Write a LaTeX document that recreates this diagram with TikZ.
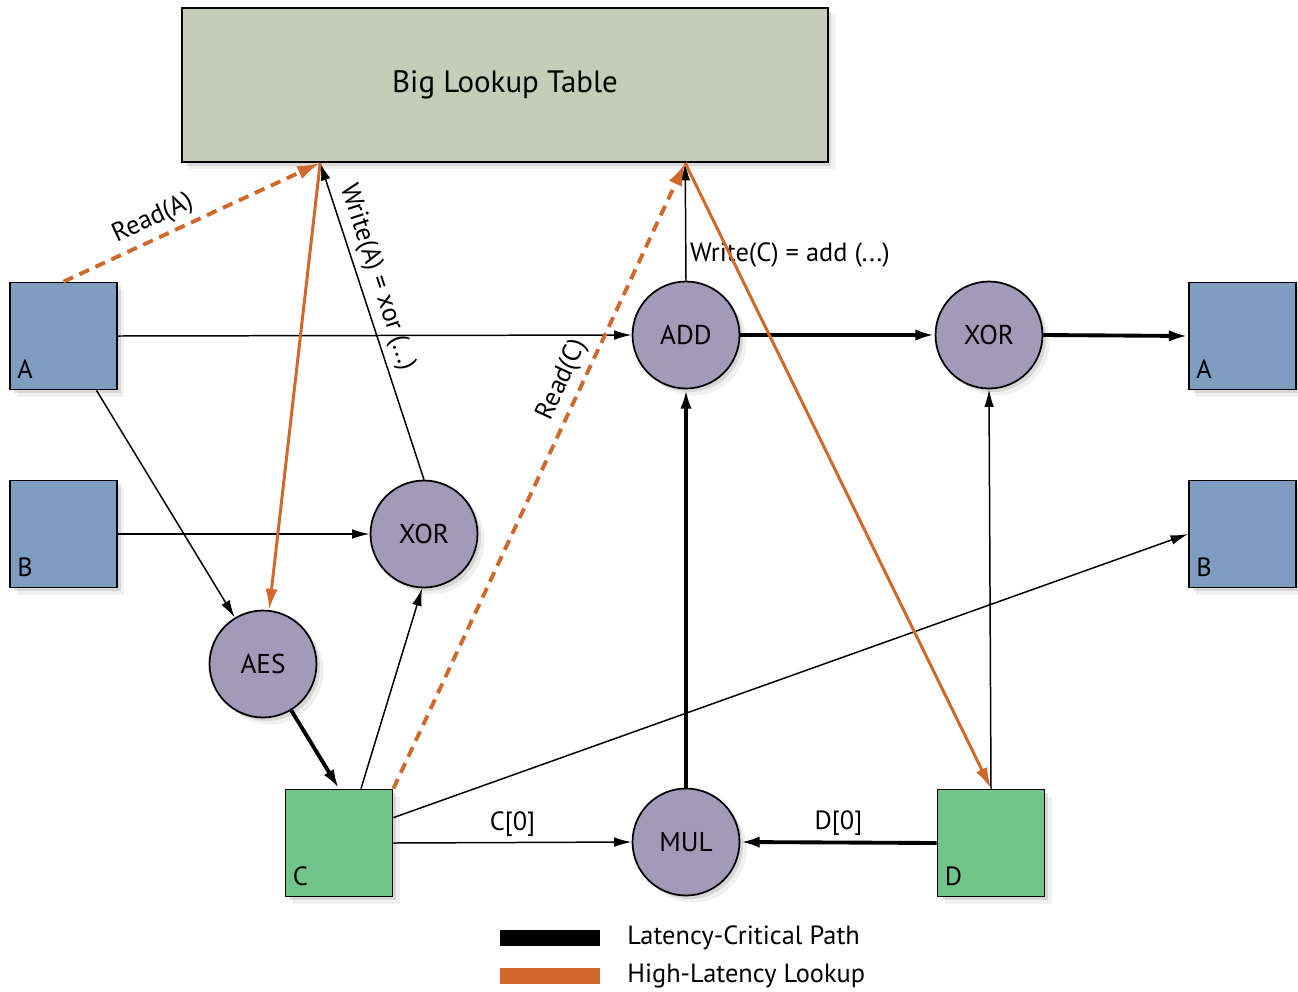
\documentclass[tikz,border=0pt]{standalone}
\usepackage{fontspec}
\setmainfont{PT Sans}
\usetikzlibrary{arrows.meta,shadows,calc}
\definecolor{tblc}{RGB}{197,205,185}
\definecolor{regc}{RGB}{126,157,192}
\definecolor{memc}{RGB}{114,197,138}
\definecolor{opc}{RGB}{162,154,184}
\definecolor{orc}{RGB}{208,104,44}
\begin{document}
\begin{tikzpicture}[x=0.02cm,y=-0.02cm,
  softshadow/.style={drop shadow={shadow xshift=2pt,shadow yshift=-2pt,opacity=.22},
                     drop shadow={shadow xshift=4pt,shadow yshift=-4pt,opacity=.12}},
  regbox/.style={draw=black,line width=1pt,fill=regc,minimum size=2.14cm,inner sep=0,softshadow},
  membox/.style={draw=black,line width=1pt,fill=memc,minimum size=2.14cm,inner sep=0,softshadow},
  opnode/.style={circle,draw=black,line width=1pt,fill=opc,minimum size=2.14cm,inner sep=0,softshadow,font=\fontsize{15.5}{18}\selectfont},
  corner/.style={label={[anchor=base west,inner sep=0,xshift=4.5pt,yshift=6.5pt,font=\fontsize{15}{17}\selectfont]south west:#1}},
  lnthin/.style={line width=0.85pt,-{Latex[length=10pt,width=5.5pt]}},
  lnthick/.style={line width=2.2pt,-{Latex[length=11pt,width=6.5pt]}},
  lkdash/.style={draw=orc,line width=2.2pt,dash pattern=on 6pt off 4pt,-{Latex[length=13pt,width=8pt]}},
  lksolid/.style={draw=orc,line width=1.7pt,-{Latex[length=12pt,width=7pt]}},
  elabel/.style={font=\fontsize{15}{17}\selectfont,inner sep=3pt}
]
\useasboundingbox (0,0) rectangle (1298,991);

% table
\node[draw=black,line width=1pt,fill=tblc,minimum width=12.92cm,minimum height=3.08cm,softshadow,
      font=\fontsize{17.6}{21}\selectfont] (BLT) at (505,85) {Big Lookup Table};
\coordinate (L1) at ($(BLT.south west)+(139,0)$);
\coordinate (L2) at ($(BLT.south west)+(504,0)$);

% registers
\node[regbox,corner=A] (A1) at (63.5,336) {};
\node[regbox,corner=B] (B1) at (63.5,534) {};
\node[regbox,corner=A] (A2) at (1242.5,336) {};
\node[regbox,corner=B] (B2) at (1242.5,534) {};
\node[membox,corner=C] (C) at (339,843) {};
\node[membox,corner=D] (D) at (991,843) {};

% operations
\node[opnode] (ADD) at (686,335) {ADD};
\node[opnode] (XORr) at (989,335) {XOR};
\node[opnode] (XORm) at (424,534) {XOR};
\node[opnode] (AES) at (263,664) {AES};
\node[opnode] (MUL) at (686,842) {MUL};

% thin edges
\draw[lnthin] (A1.east) -- (ADD.west);
\draw[lnthin] (A1) -- (AES);
\draw[lnthin] (B1.east) -- (XORm.west);
\draw[lnthin] (C.68) -- (XORm.-92);
\draw[lnthin] (C.25) -- (B2.west);
\draw[lnthin] (C.east) -- node[elabel,above] {C[0]} (MUL.west);
\draw[lnthin] (D.north) -- (XORr.south);
\draw[lnthin] (XORm.north) -- node[elabel,pos=.62,sloped,above] {Write(A) = xor (...)} (L1);
\draw[lnthin] (ADD.north) -- node[elabel,pos=.22,right,inner sep=2pt] {Write(C) = add (...)} (L2);

% thick edges
\draw[lnthick] (ADD.east) -- (XORr.west);
\draw[lnthick] (XORr.east) -- (A2.west);
\draw[lnthick] (AES) -- (C.north);
\draw[lnthick] (MUL.north) -- (ADD.south);
\draw[lnthick] (D.west) -- node[elabel,above] {D[0]} (MUL.east);

% lookups
\draw[lkdash] (A1.north) -- node[elabel,pos=.38,sloped,above] {Read(A)} (L1);
\draw[lksolid] (L1) -- (AES);
\draw[lkdash] (C.north east) -- node[elabel,pos=.64,sloped,above] {Read(C)} (L2);
\draw[lksolid] (L2) -- (D.north);

% legend
\node[fill=black,minimum width=2cm,minimum height=0.32cm,inner sep=0] (lgk) at (550,938) {};
\node[fill=orc,minimum width=2cm,minimum height=0.32cm,inner sep=0] (lgo) at (550,976) {};
\node[anchor=west,font=\fontsize{15}{17}\selectfont,inner sep=0] (lgkt) at (627,938) {Latency-Critical Path};
\node[anchor=west,font=\fontsize{15}{17}\selectfont,inner sep=0] (lgot) at (627,976) {High-Latency Lookup};
\end{tikzpicture}
\end{document}
